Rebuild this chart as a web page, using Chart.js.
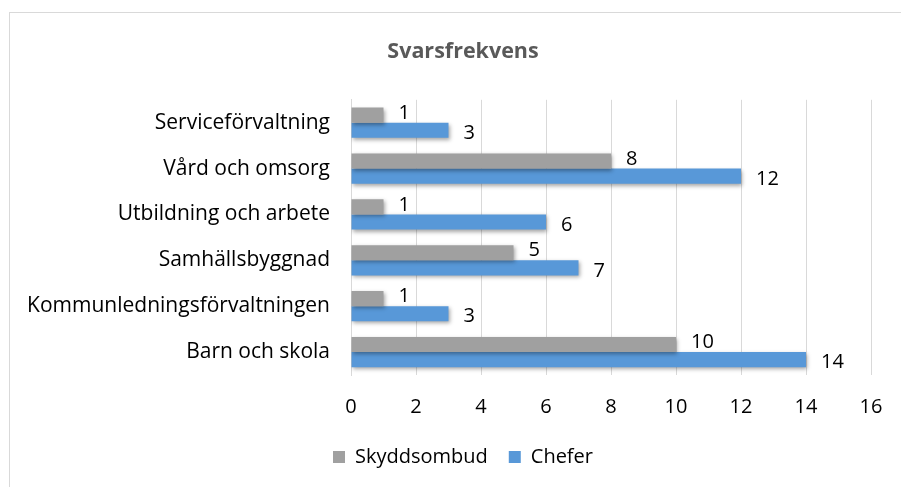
<!DOCTYPE html>
<html>
<head>
<meta charset="utf-8">
<script src="https://cdn.jsdelivr.net/npm/chart.js@4"></script>
<style>
    html, body { margin: 0; padding: 0; background: #fff; overflow: hidden; }
    #wrap { position: relative; width: 901px; height: 487px; overflow: hidden; }
    #frame { position: absolute; left: 9px; top: 12px; width: 920px; height: 500px; border: 1px solid #d9d9d9; box-sizing: border-box; }
    #svarsChart { position: absolute; left: 0; top: 0; }
</style>
</head>
<body>
<div id="wrap">
    <div id="frame"></div>
    <canvas id="svarsChart" width="916" height="487"></canvas>
</div>
<script>
// Kategorier (uppifrån och ned)
const kategorier = [
    'Serviceförvaltning',
    'Vård och omsorg',
    'Utbildning och arbete',
    'Samhällsbyggnad',
    'Kommunledningsförvaltningen',
    'Barn och skola'
];
const skyddsombud = [1, 8, 1, 5, 1, 10];
const chefer = [3, 12, 6, 7, 3, 14];
const xMin = 0;
const xMax = 16;
const xSteg = 2;

const typsnitt = "'Open Sans', 'Liberation Sans', sans-serif";

// --- Värden vid stapelns ände ---
const vardeEtiketter = {
    id: 'vardeEtiketter',
    afterDatasetsDraw(chart) {
        const ctx = chart.ctx;
        ctx.save();
        ctx.font = '20px ' + typsnitt;
        ctx.fillStyle = '#000';
        ctx.textAlign = 'left';
        ctx.textBaseline = 'middle';
        chart.data.datasets.forEach(function (ds, i) {
            const meta = chart.getDatasetMeta(i);
            meta.data.forEach(function (bar, j) {
                const dy = i === 0 ? -2 : 3;
                ctx.fillText(String(ds.data[j]), bar.x + 15, bar.y + dy);
            });
        });
        ctx.restore();
    }
};

// --- Lätt skugga under staplarna ---
const stapelSkugga = {
    id: 'stapelSkugga',
    beforeDatasetDraw(chart) {
        const ctx = chart.ctx;
        ctx.save();
        ctx.shadowColor = 'rgba(0, 0, 0, 0.35)';
        ctx.shadowBlur = 4;
        ctx.shadowOffsetX = 1;
        ctx.shadowOffsetY = 2;
    },
    afterDatasetDraw(chart) {
        chart.ctx.restore();
    }
};

document.addEventListener('DOMContentLoaded', function () {
    const ctx = document.getElementById('svarsChart');
    new Chart(ctx, {
        type: 'bar',
        data: {
            labels: kategorier,
            datasets: [{
                label: 'Skyddsombud',
                data: skyddsombud,
                backgroundColor: '#a0a0a0',
                borderWidth: 0,
                categoryPercentage: 0.66,
                barPercentage: 1.0
            }, {
                label: 'Chefer',
                data: chefer,
                backgroundColor: '#5898d8',
                borderWidth: 0,
                categoryPercentage: 0.66,
                barPercentage: 1.0
            }]
        },
        options: {
            indexAxis: 'y',
            responsive: false,
            animation: false,
            layout: {
                padding: { left: 10, right: 0, top: 12, bottom: 10 }
            },
            scales: {
                x: {
                    min: xMin,
                    max: xMax,
                    ticks: {
                        stepSize: xSteg,
                        color: '#000',
                        padding: 20,
                        font: { family: typsnitt, size: 20 }
                    },
                    grid: {
                        color: '#d9d9d9',
                        drawTicks: false
                    },
                    border: { display: false },
                    afterFit: function (scale) {
                        scale.height = 51;
                    }
                },
                y: {
                    ticks: {
                        color: '#000',
                        padding: 21,
                        font: { family: typsnitt, size: 21 }
                    },
                    grid: { display: false, drawTicks: false },
                    border: { color: '#d9d9d9' },
                    afterFit: function (scale) {
                        scale.width = 341;
                    }
                },
                // tom axel till höger så att rubrik och förklaring hamnar mitt över diagrammet
                hoger: {
                    type: 'category',
                    position: 'right',
                    ticks: { display: false },
                    grid: { display: false, drawTicks: false },
                    border: { display: false },
                    afterFit: function (scale) {
                        scale.width = 45;
                    }
                }
            },
            plugins: {
                title: {
                    display: true,
                    text: 'Svarsfrekvens',
                    color: '#595959',
                    font: { family: typsnitt, size: 21.5, weight: 'bold' },
                    padding: { top: 27, bottom: 35 }
                },
                legend: {
                    position: 'bottom',
                    labels: {
                        color: '#000',
                        boxWidth: 12,
                        boxHeight: 12,
                        padding: 21,
                        font: { family: typsnitt, size: 20 }
                    }
                },
                tooltip: { enabled: false }
            }
        },
        plugins: [stapelSkugga, vardeEtiketter]
    });
});
</script>
</body>
</html>
